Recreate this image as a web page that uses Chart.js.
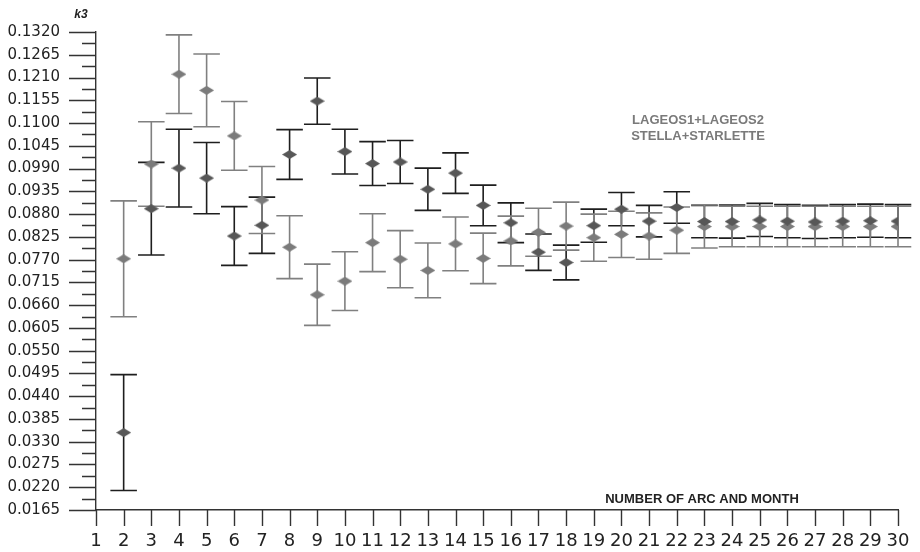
<!DOCTYPE html>
<html>
<head>
<meta charset="utf-8">
<script src="https://cdn.jsdelivr.net/npm/chart.js@4.4.1/dist/chart.umd.min.js"></script>
<style>
  body { margin: 0; background: #fff; }
  canvas { display: block; }
</style>
</head>
<body>
<canvas id="k3-chart" width="920" height="552"></canvas>
<script>
// arc numbers (x axis)
var arcs = [2, 3, 4, 5, 6, 7, 8, 9, 10, 11, 12, 13, 14, 15, 16, 17, 18, 19, 20, 21, 22, 23, 24, 25, 26, 27, 28, 29, 30];

// dark diamonds
var darkValues = [0.0352, 0.0893, 0.0991, 0.0967, 0.0827, 0.0853, 0.1024, 0.1153, 0.1031, 0.1002,
                  0.1006, 0.0940, 0.0979, 0.0901, 0.0859, 0.0788, 0.0763, 0.0852, 0.0892, 0.0863,
                  0.0896, 0.0862, 0.0862, 0.0866, 0.0863, 0.0861, 0.0863, 0.0864, 0.0863];
var darkErrors = [0.0140, 0.0112, 0.0094, 0.0086, 0.0071, 0.0068, 0.0060, 0.0056, 0.0054, 0.0053,
                  0.0052, 0.0051, 0.0049, 0.0049, 0.0048, 0.0044, 0.0042, 0.0040, 0.0040, 0.0038,
                  0.0038, 0.0039, 0.0040, 0.0040, 0.0040, 0.0040, 0.0040, 0.0040, 0.0040];

// light diamonds
var lightValues = [0.0772, 0.1001, 0.1218, 0.1179, 0.1069, 0.0914, 0.0800, 0.0685, 0.0718, 0.0811,
                   0.0771, 0.0744, 0.0808, 0.0773, 0.0815, 0.0836, 0.0851, 0.0823, 0.0831, 0.0827,
                   0.0841, 0.0850, 0.0850, 0.0850, 0.0850, 0.0850, 0.0850, 0.0850, 0.0850];
var lightErrors = [0.0140, 0.0102, 0.0095, 0.0088, 0.0083, 0.0081, 0.0076, 0.0074, 0.0071, 0.0070,
                   0.0069, 0.0066, 0.0065, 0.0061, 0.0060, 0.0058, 0.0058, 0.0057, 0.0056, 0.0056,
                   0.0056, 0.0052, 0.0049, 0.0049, 0.0049, 0.0049, 0.0049, 0.0049, 0.0049];

// tick labels
var xTickLabels = ['1','2','3','4','5','6','7','8','9','10','11','12','13','14','15',
                   '16','17','18','19','20','21','22','23','24','25','26','27','28','29','30'];
var yTickLabels = ['0.0165','0.0220','0.0275','0.0330','0.0385','0.0440','0.0495','0.0550',
                   '0.0605','0.0660','0.0715','0.0770','0.0825','0.0880','0.0935','0.0990',
                   '0.1045','0.1100','0.1155','0.1210','0.1265','0.1320'];

var legendLines = ['LAGEOS1+LAGEOS2', 'STELLA+STARLETTE'];
var xTitle = 'NUMBER OF ARC AND MONTH';
var yTitle = 'k3';

// flattened diamond marker
function makeDiamond(color){
    let c = document.createElement('canvas');
    c.width = 15; c.height = 9;
    let g = c.getContext('2d');
    g.fillStyle = color;
    g.beginPath();
    g.moveTo(0, 4.5); g.lineTo(7.5, 0); g.lineTo(15, 4.5); g.lineTo(7.5, 9);
    g.closePath();
    g.fill();
    return c;
}

const yMajor = yTickLabels.map(Number);
const yAllTicks = [];
for(let i=0; i<yMajor.length; i++){
    yAllTicks.push({value: yMajor[i], major: true});
    if(i < yMajor.length - 1){
        yAllTicks.push({value: (yMajor[i] + yMajor[i+1]) / 2, major: false});
    }
}

// error bars + axis tick marks + free texts
const decorPlugin = {
    id: 'decor',
    beforeDatasetsDraw(chart){
        const ctx = chart.ctx;
        const x = chart.scales.x, y = chart.scales.y;
        chart.data.datasets.forEach((ds) => {
            ctx.save();
            ctx.strokeStyle = ds.errorColor;
            ctx.lineWidth = 1.6;
            ds.data.forEach((p, i) => {
                let err = ds.errors[i];
                let px = x.getPixelForValue(p.x);
                let l = x.getPixelForValue(p.x - 0.48);
                let r = x.getPixelForValue(p.x + 0.48);
                let top = y.getPixelForValue(p.y + err);
                let bot = y.getPixelForValue(p.y - err);
                ctx.beginPath();
                ctx.moveTo(px, top); ctx.lineTo(px, bot);
                ctx.moveTo(l, top); ctx.lineTo(r, top);
                ctx.moveTo(l, bot); ctx.lineTo(r, bot);
                ctx.stroke();
            });
            ctx.restore();
        });
    },
    afterDraw(chart){
        const ctx = chart.ctx;
        const x = chart.scales.x, y = chart.scales.y;
        const area = chart.chartArea;
        ctx.save();
        ctx.strokeStyle = '#333';
        ctx.lineWidth = 1.4;
        ctx.beginPath();
        y.ticks.forEach((t) => {
            let py = Math.round(y.getPixelForValue(t.value)) + 0.5;
            let len = t.major ? 27 : 14;
            ctx.moveTo(area.left - len, py); ctx.lineTo(area.left, py);
        });
        x.ticks.forEach((t) => {
            let px = Math.round(x.getPixelForValue(t.value)) + 0.5;
            ctx.moveTo(px, area.bottom); ctx.lineTo(px, area.bottom + 16);
        });
        ctx.stroke();

        ctx.textAlign = 'center';
        ctx.textBaseline = 'middle';
        ctx.fillStyle = '#222';
        ctx.font = 'italic bold 12px "Liberation Sans", Arial, sans-serif';
        ctx.fillText(yTitle, area.left - 15, 15);

        ctx.fillStyle = '#7a7a7a';
        ctx.font = 'bold 13px "Liberation Sans", Arial, sans-serif';
        ctx.fillText(legendLines[0], 698, 120);
        ctx.fillText(legendLines[1], 698, 136);

        ctx.fillStyle = '#222';
        ctx.font = 'bold 13px "Liberation Sans", Arial, sans-serif';
        ctx.fillText(xTitle, 702, 499);
        ctx.restore();
    }
};

const k3Chart = new Chart(document.getElementById('k3-chart'), {
    type: 'scatter',
    data: {
        datasets: [
            {
                label: legendLines[0],
                data: arcs.map((a, i) => ({x: a, y: darkValues[i]})),
                errors: darkErrors,
                errorColor: '#1e1e1e',
                pointStyle: makeDiamond('#575757'),
                pointRadius: 7,
                pointHoverRadius: 7
            },
            {
                label: legendLines[1],
                data: arcs.map((a, i) => ({x: a, y: lightValues[i]})),
                errors: lightErrors,
                errorColor: '#808080',
                pointStyle: makeDiamond('#7b7b7b'),
                pointRadius: 7,
                pointHoverRadius: 7
            }
        ]
    },
    plugins: [decorPlugin],
    options: {
        responsive: false,
        animation: false,
        events: [],
        layout: {padding: {top: 32, right: 22, left: 0, bottom: 0}},
        plugins: {
            legend: {display: false},
            tooltip: {enabled: false}
        },
        scales: {
            x: {
                type: 'linear',
                min: 1,
                max: 30,
                // tick marks drawn by the plugin; the transparent ones only reserve room for labels
                grid: {display: true, drawOnChartArea: false, drawTicks: true, tickLength: 21, color: 'rgba(0,0,0,0)'},
                border: {display: true, color: '#333', width: 1.4},
                afterBuildTicks: (axis) => {
                    axis.ticks = xTickLabels.map((t) => ({value: Number(t)}));
                },
                afterFit: (axis) => { axis.height = 42; },
                ticks: {
                    autoSkip: false,
                    maxRotation: 0,
                    minRotation: 0,
                    padding: 0,
                    color: '#222',
                    font: {family: 'DejaVu Sans', size: 18},
                    callback: (v) => String(v)
                }
            },
            y: {
                type: 'linear',
                min: yMajor[0],
                max: yMajor[yMajor.length - 1],
                grid: {display: true, drawOnChartArea: false, drawTicks: true, tickLength: 36, color: 'rgba(0,0,0,0)'},
                border: {display: true, color: '#333', width: 1.4},
                afterBuildTicks: (axis) => {
                    axis.ticks = yAllTicks.map((t) => ({value: t.value, major: t.major}));
                },
                afterFit: (axis) => { axis.width = 96; },
                ticks: {
                    autoSkip: false,
                    padding: 0,
                    color: '#222',
                    font: {family: 'DejaVu Sans', size: 15},
                    callback: function(v, i){
                        let idx = yMajor.indexOf(v);
                        return idx >= 0 ? yTickLabels[idx] : '';
                    }
                }
            }
        }
    }
});
</script>
</body>
</html>
